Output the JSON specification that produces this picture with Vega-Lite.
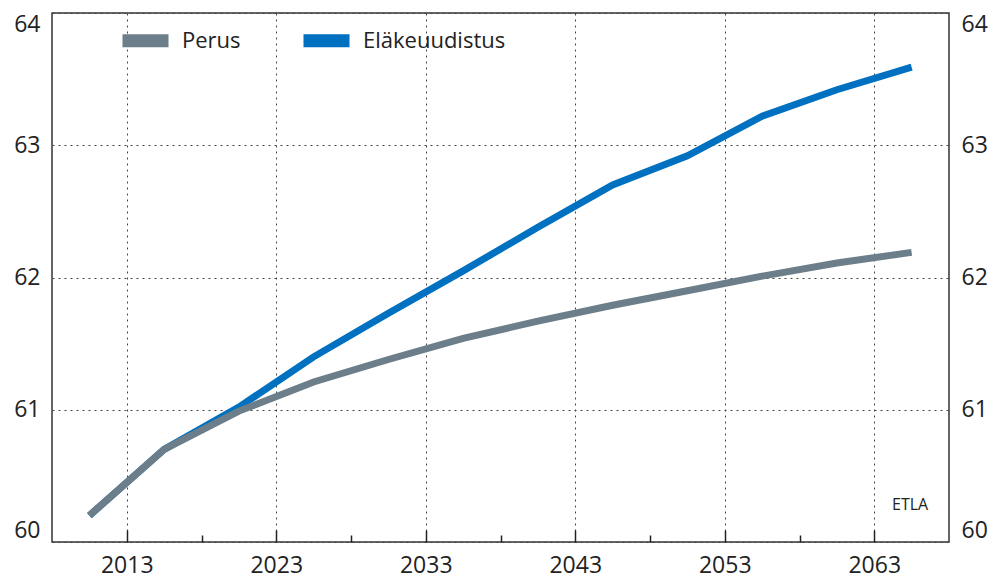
{
  "$schema": "https://vega.github.io/schema/vega-lite/v6.json",
  "width": 897,
  "height": 529,
  "autosize": "none",
  "padding": {"left": 52, "top": 13, "right": 43, "bottom": 37},
  "background": "white",
  "config": {
    "view": {"stroke": "#333333", "strokeWidth": 1.5},
    "font": "Open Sans",
    "axis": {"labelFont": "Open Sans", "labelFontSize": 23, "labelColor": "#222222"},
    "legend": {"labelFont": "Open Sans", "labelFontSize": 22, "labelColor": "#222222"}
  },
  "datasets": {
    "series": [
      {"year": 2010, "series": "Eläkeuudistus", "value": 60.20},
      {"year": 2015, "series": "Eläkeuudistus", "value": 60.70},
      {"year": 2020, "series": "Eläkeuudistus", "value": 61.02},
      {"year": 2025, "series": "Eläkeuudistus", "value": 61.40},
      {"year": 2030, "series": "Eläkeuudistus", "value": 61.73},
      {"year": 2035, "series": "Eläkeuudistus", "value": 62.05},
      {"year": 2040, "series": "Eläkeuudistus", "value": 62.38},
      {"year": 2045, "series": "Eläkeuudistus", "value": 62.70},
      {"year": 2050, "series": "Eläkeuudistus", "value": 62.92},
      {"year": 2055, "series": "Eläkeuudistus", "value": 63.22},
      {"year": 2060, "series": "Eläkeuudistus", "value": 63.42},
      {"year": 2065, "series": "Eläkeuudistus", "value": 63.59},
      {"year": 2010, "series": "Perus", "value": 60.20},
      {"year": 2015, "series": "Perus", "value": 60.70},
      {"year": 2020, "series": "Perus", "value": 60.99},
      {"year": 2025, "series": "Perus", "value": 61.21},
      {"year": 2030, "series": "Perus", "value": 61.38},
      {"year": 2035, "series": "Perus", "value": 61.54},
      {"year": 2040, "series": "Perus", "value": 61.67},
      {"year": 2045, "series": "Perus", "value": 61.79},
      {"year": 2050, "series": "Perus", "value": 61.90},
      {"year": 2055, "series": "Perus", "value": 62.01},
      {"year": 2060, "series": "Perus", "value": 62.11},
      {"year": 2065, "series": "Perus", "value": 62.19}
    ]
  },
  "layer": [
    {
      "data": {"name": "series"},
      "mark": {"type": "line", "strokeWidth": 7, "strokeCap": "butt"},
      "encoding": {
        "x": {
          "field": "year", "type": "quantitative", "title": null,
          "scale": {"domain": [2007.5, 2067.5], "nice": false, "zero": false},
          "axis": {
            "values": [2012.5, 2017.5, 2022.5, 2027.5, 2032.5, 2037.5, 2042.5, 2047.5, 2052.5, 2057.5, 2062.5],
            "labelExpr": "(datum.value - 2012.5) % 10 == 0 ? format(datum.value + 0.5, 'd') : ''",
            "labelFlush": false,
            "labelPadding": 24,
            "domain": false,
            "grid": true,
            "gridDash": [2, 4],
            "gridWidth": 1,
            "gridColor": {"condition": {"test": "(datum.value - 2012.5) % 10 == 0", "value": "#444444"}, "value": "transparent"},
            "tickColor": "#222222",
            "tickWidth": 1.5,
            "tickSize": {"condition": {"test": "(datum.value - 2012.5) % 10 == 0", "value": -12}, "value": -7}
          }
        },
        "y": {
          "field": "value", "type": "quantitative", "title": null,
          "scale": {"domain": [60, 64], "nice": false, "zero": false},
          "axis": {
            "values": [60, 61, 62, 63, 64],
            "format": "d",
            "labelFlush": true,
            "labelPadding": 12,
            "domain": false,
            "ticks": false,
            "grid": true,
            "gridDash": [2, 4],
            "gridColor": "#444444",
            "gridWidth": 1
          }
        },
        "color": {
          "field": "series", "type": "nominal",
          "scale": {"domain": ["Perus", "Eläkeuudistus"], "range": ["#6c7e89", "#0070c0"]},
          "legend": {
            "title": null,
            "orient": "none",
            "legendX": 64,
            "legendY": -2,
            "direction": "horizontal",
            "symbolType": "stroke",
            "symbolStrokeWidth": 13,
            "symbolSize": 2116,
            "labelOffset": 7,
            "columnPadding": 36
          }
        }
      }
    },
    {
      "data": {"values": [{"label": "ETLA", "year": 2064.9, "value": 60.28}]},
      "mark": {"type": "text", "fontSize": 16, "font": "Open Sans", "color": "#222222", "align": "center", "baseline": "middle"},
      "encoding": {
        "text": {"field": "label"},
        "x": {"field": "year", "type": "quantitative", "title": null},
        "y": {
          "field": "value", "type": "quantitative", "title": null,
          "axis": {
            "orient": "right",
            "values": [60, 61, 62, 63, 64],
            "format": "d",
            "labelFlush": true,
            "labelPadding": 12,
            "domain": false,
            "ticks": false,
            "grid": false
          }
        }
      }
    }
  ],
  "resolve": {"axis": {"y": "independent"}}
}
